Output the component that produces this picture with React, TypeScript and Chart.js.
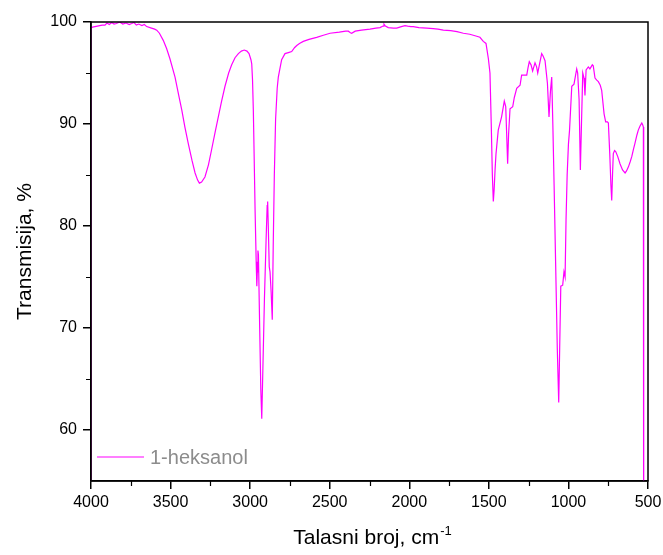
import React, { useEffect, useRef } from "react";
import { Chart, registerables } from "chart.js";

Chart.register(...registerables);

// Wavenumbers (cm^-1) and transmission (%)
const wavenumbers: number[] = [
  4000, 4000, 3990, 3960, 3930, 3912, 3900, 3885, 3870, 3855, 3840, 3820, 3800, 3780, 3760, 3744,
  3730, 3715, 3700, 3680, 3665, 3650, 3620, 3600, 3587, 3570, 3546, 3525, 3504, 3472, 3450, 3430,
  3410, 3389, 3365, 3346, 3330, 3319, 3305, 3284, 3262, 3242, 3220, 3200, 3180, 3158, 3135, 3116,
  3095, 3074, 3055, 3037, 3020, 3007, 2995, 2990, 2985, 2980, 2975, 2969, 2962, 2958, 2955, 2951,
  2948, 2940, 2933, 2927, 2920, 2910, 2900, 2893, 2890, 2886, 2880, 2875, 2868, 2861, 2855, 2848,
  2840, 2830, 2823, 2812, 2802, 2781, 2760, 2739, 2720, 2707, 2690, 2666, 2630, 2582, 2540, 2498,
  2440, 2400, 2383, 2370, 2362, 2340, 2300, 2247, 2210, 2184, 2165, 2159, 2150, 2132, 2100, 2079,
  2050, 2027, 2010, 1990, 1975, 1940, 1890, 1850, 1820, 1786, 1740, 1700, 1660, 1620, 1576, 1556,
  1535, 1518, 1503, 1493, 1485, 1478, 1472, 1467, 1461, 1455, 1441, 1420, 1403, 1394, 1388, 1382,
  1376, 1367, 1350, 1340, 1325, 1304, 1294, 1275, 1262, 1254, 1246, 1235, 1225, 1210, 1200, 1193,
  1180, 1168, 1160, 1147, 1132, 1122, 1113, 1105, 1098, 1090, 1080, 1070, 1061, 1055, 1048, 1036,
  1028, 1021, 1015, 1008, 1000, 993, 979, 965, 955, 948, 942, 933, 925, 918, 910, 902,
  896, 889, 875, 865, 850, 844, 833, 822, 812, 800, 791, 776, 766, 755, 749, 740,
  733, 728, 723, 718, 710, 703, 690, 676, 660, 644, 635, 623, 612, 602, 590, 582,
  570, 561, 550, 539, 533, 529, 527,
];

const transmission: number[] = [
  40, 99.4, 99.5, 99.6, 99.7, 99.7, 99.9, 99.75, 99.95, 99.8, 99.85, 100.0, 99.8, 99.9, 99.75, 99.85,
  99.95, 99.7, 99.8, 99.65, 99.75, 99.55, 99.4, 99.3, 99.2, 98.9, 98.2, 97.4, 96.4, 94.6, 92.9, 91.4,
  89.7, 88.1, 86.4, 85.2, 84.5, 84.2, 84.3, 84.8, 86.0, 87.5, 89.2, 90.7, 92.2, 93.7, 95.0, 95.8,
  96.5, 96.9, 97.15, 97.25, 97.15, 96.9, 96.3, 95.9, 94.3, 91.4, 87.0, 81.6, 76.5, 74.1, 75.5, 77.6,
  77.2, 70.0, 64.0, 61.1, 66.0, 73.0, 78.5, 82.0, 82.4, 80.0, 76.0, 75.5, 73.5, 70.8, 78.0, 85.0,
  90.5, 93.5, 94.6, 95.5, 96.3, 96.9, 97.0, 97.1, 97.5, 97.7, 97.9, 98.1, 98.3, 98.5, 98.7, 98.9,
  99.0, 99.1, 99.1, 98.95, 98.9, 99.1, 99.2, 99.3, 99.4, 99.45, 99.6, 99.8, 99.6, 99.45, 99.4, 99.4,
  99.55, 99.65, 99.6, 99.55, 99.55, 99.45, 99.4, 99.35, 99.3, 99.2, 99.15, 99.05, 98.9, 98.8, 98.6, 98.5,
  98.1, 97.9, 96.4, 95.0, 90.0, 85.0, 82.4, 83.5, 85.5, 87.1, 89.4, 90.7, 92.25, 91.7, 89.0, 86.1,
  89.0, 91.5, 91.7, 92.6, 93.5, 93.8, 94.8, 94.8, 94.8, 95.5, 96.1, 95.8, 95.2, 96.0, 95.6, 95.0,
  96.0, 96.9, 96.7, 96.2, 94.0, 90.7, 93.2, 94.6, 90.0, 84.0, 76.0, 68.0, 62.7, 68.0, 74.1, 74.2,
  75.5, 75.0, 80.6, 85.0, 88.0, 89.4, 93.7, 93.9, 94.8, 95.4, 95.0, 92.4, 85.5, 90.0, 95.0, 94.5,
  92.8, 95.3, 95.6, 95.4, 95.8, 95.7, 94.5, 94.3, 94.15, 93.8, 93.3, 91.0, 90.2, 90.2, 90.1, 87.0,
  84.0, 82.5, 85.0, 87.1, 87.4, 87.3, 86.8, 86.1, 85.5, 85.2, 85.4, 85.8, 86.3, 86.8, 87.6, 88.1,
  88.9, 89.4, 89.8, 90.1, 89.9, 89.7, 40,
];

const xTickValues: number[] = [500, 1000, 1500, 2000, 2500, 3000, 3500, 4000];
const xMinorValues: number[] = [750, 1250, 1750, 2250, 2750, 3250, 3750];
const yTickValues: number[] = [60, 70, 80, 90, 100];
const yMinorValues: number[] = [65, 75, 85, 95];

const seriesName = "1-heksanol";
const xTitle = "Talasni broj, cm";
const xTitleSup = "-1";
const yTitle = "Transmisija, %";

const LINE_COLOR = "#ff00ff";
const FONT = "'Liberation Sans', Arial, sans-serif";

const decorPlugin = {
  id: "decor",
  afterDraw(chart: any) {
    const ctx: CanvasRenderingContext2D = chart.ctx;
    const { left, right, top, bottom } = chart.chartArea;
    const xs = chart.scales.x;
    const ys = chart.scales.y;
    ctx.save();
    // frame
    ctx.strokeStyle = "#000";
    ctx.lineWidth = 1.5;
    ctx.strokeRect(left, top, right - left, bottom - top);
    // minor ticks
    ctx.lineWidth = 1.2;
    ctx.beginPath();
    xMinorValues.forEach((v) => {
      const px = Math.round(xs.getPixelForValue(v)) + 0.5;
      ctx.moveTo(px, bottom);
      ctx.lineTo(px, bottom + 5);
    });
    yMinorValues.forEach((v) => {
      const py = Math.round(ys.getPixelForValue(v)) + 0.5;
      ctx.moveTo(left, py);
      ctx.lineTo(left - 5, py);
    });
    ctx.stroke();

    // legend
    ctx.strokeStyle = LINE_COLOR;
    ctx.lineWidth = 1.2;
    ctx.beginPath();
    ctx.moveTo(97, 457);
    ctx.lineTo(144, 457);
    ctx.stroke();
    ctx.fillStyle = "#8c8c8c";
    ctx.font = `20px ${FONT}`;
    ctx.textAlign = "left";
    ctx.textBaseline = "middle";
    ctx.fillText(seriesName, 150, 458);

    // x title with superscript
    ctx.fillStyle = "#000";
    ctx.textBaseline = "alphabetic";
    ctx.font = `21px ${FONT}`;
    const mainW = ctx.measureText(xTitle).width;
    ctx.font = `13px ${FONT}`;
    const supW = ctx.measureText(xTitleSup).width;
    const cx = (left + right) / 2 + 3;
    const startX = cx - (mainW + supW + 1) / 2;
    ctx.font = `21px ${FONT}`;
    ctx.fillText(xTitle, startX, 544);
    ctx.font = `13px ${FONT}`;
    ctx.fillText(xTitleSup, startX + mainW + 1, 535);

    // y title
    ctx.font = `21px ${FONT}`;
    ctx.translate(31, (top + bottom) / 2);
    ctx.rotate(-Math.PI / 2);
    ctx.textAlign = "center";
    ctx.fillText(yTitle, 0, 0);
    ctx.restore();
  },
};

export default function App() {
  const canvasRef = useRef<HTMLCanvasElement | null>(null);

  useEffect(() => {
    if (!canvasRef.current) return;
    const points = wavenumbers.map((w, i) => ({ x: w, y: transmission[i] }));
    const chart = new Chart(canvasRef.current, {
      type: "line",
      data: {
        datasets: [
          {
            label: seriesName,
            data: points,
            borderColor: LINE_COLOR,
            borderWidth: 1.2,
            pointRadius: 0,
            tension: 0,
            fill: false,
          },
        ],
      },
      options: {
        responsive: false,
        animation: false,
        parsing: true,
        layout: { padding: { left: 0, top: 22, right: 15, bottom: 0 } },
        plugins: {
          legend: { display: false },
          tooltip: { enabled: false },
        },
        scales: {
          x: {
            type: "linear",
            reverse: true,
            min: 500,
            max: 4000,
            afterBuildTicks: (scale: any) => {
              scale.ticks = xTickValues.map((v) => ({ value: v }));
            },
            afterFit: (scale: any) => {
              scale.height = 74;
            },
            grid: {
              display: true,
              drawOnChartArea: false,
              drawTicks: true,
              tickLength: 8,
              color: "#000",
              lineWidth: 1.5,
            },
            border: { display: true, color: "#000", width: 1.5 },
            ticks: {
              color: "#000",
              font: { family: FONT, size: 16 },
              padding: 4,
              maxRotation: 0,
              autoSkip: false,
              callback: (v: any) => String(v),
            },
          },
          y: {
            type: "linear",
            min: 55,
            max: 100,
            afterBuildTicks: (scale: any) => {
              scale.ticks = yTickValues.map((v) => ({ value: v }));
            },
            afterFit: (scale: any) => {
              scale.width = 91;
            },
            grid: {
              display: true,
              drawOnChartArea: false,
              drawTicks: true,
              tickLength: 8,
              color: "#000",
              lineWidth: 1.5,
            },
            border: { display: true, color: "#000", width: 1.5 },
            ticks: {
              color: "#000",
              font: { family: FONT, size: 16 },
              padding: 6,
              autoSkip: false,
              callback: (v: any) => String(v),
            },
          },
        },
      },
      plugins: [decorPlugin],
    });
    return () => chart.destroy();
  }, []);

  return (
    <canvas
      ref={canvasRef}
      width={663}
      height={555}
      style={{ position: "fixed", left: 0, top: 0, width: 663, height: 555, background: "#fff" }}
    />
  );
}
